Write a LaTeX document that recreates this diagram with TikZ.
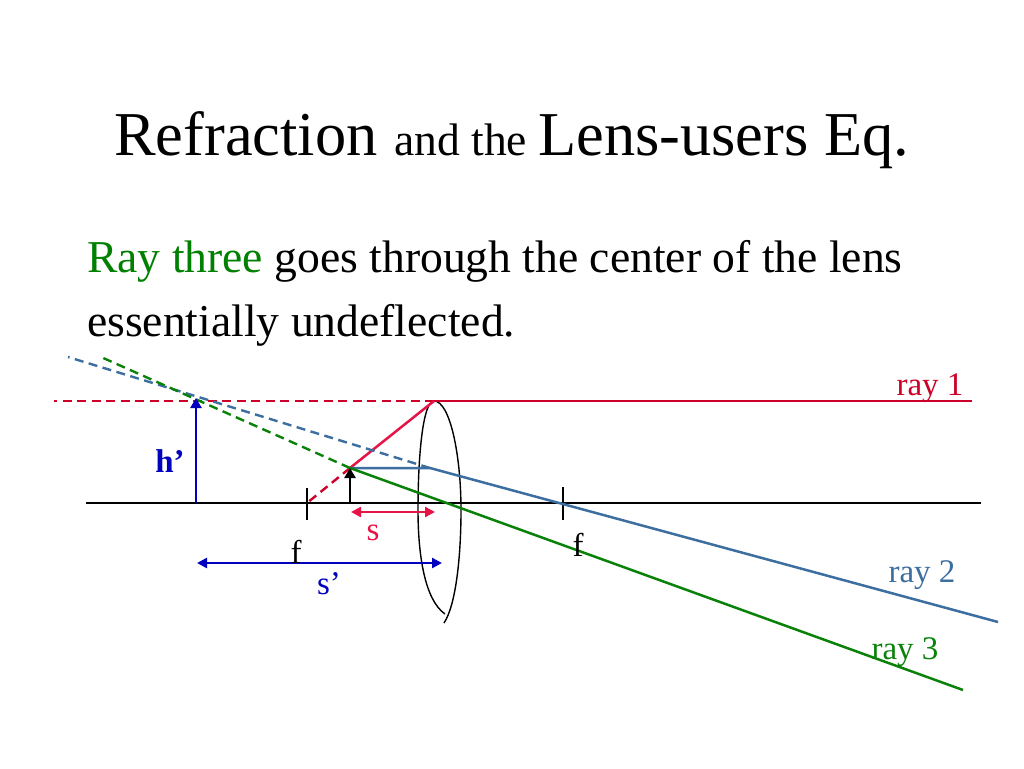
\documentclass[tikz,border=0pt]{standalone}
\usepackage{fontspec}
\setmainfont{Liberation Serif}
\usetikzlibrary{arrows.meta}
\definecolor{rayred}{RGB}{204,0,40}
\definecolor{raypink}{RGB}{230,20,70}
\definecolor{rayblue}{RGB}{60,110,160}
\definecolor{raygreen}{RGB}{10,130,10}
\definecolor{dimblue}{RGB}{0,0,190}
\definecolor{titlegreen}{RGB}{0,128,0}
\tikzset{
  txt/.style={inner sep=0pt,anchor=base west},
  solidray/.style={line width=2.5pt},
  dashray/.style={line width=2.4pt,dash pattern=on 9pt off 5.5pt},
  thinline/.style={line width=1.5pt,black},
  tickline/.style={line width=1.1pt,black},
  dimarrow/.style={line width=2.4pt,{Triangle[length=10pt,width=10pt]}-{Triangle[length=10pt,width=10pt]}},
  uparrow/.style={line width=2.8pt,-{Triangle[length=10pt,width=11pt]}},
  lbl/.style={inner sep=0pt,anchor=base,font=\fontsize{33}{33}\selectfont}
}
\begin{document}
\begin{tikzpicture}[x=1pt,y=-1pt]
\useasboundingbox[fill=white] (0,0) rectangle (1024,768);
% text
\node[txt] (title) at (114,155) {\fontsize{62.4}{64}\selectfont Refraction};
\node[txt] (title2) at (394,155) {\fontsize{45.6}{46}\selectfont and the};
\node[txt] (title3) at (538,155) {\fontsize{62.4}{64}\selectfont Lens-users Eq.};
\node[txt] (line1) at (87,272) {\fontsize{45.6}{46}\selectfont\textcolor{titlegreen}{Ray three} goes through the center of the lens};
\node[txt] (line2) at (87,336) {\fontsize{45.6}{46}\selectfont essentially undeflected.};
% points
\coordinate (axisL) at (86,503);
\coordinate (axisR) at (981,503);
\coordinate (f1t) at (307,488);
\coordinate (f1b) at (307,520);
\coordinate (f2t) at (563,487);
\coordinate (f2b) at (563,520);
\coordinate (tip) at (350,468);
\coordinate (base) at (350,503);
\coordinate (f1) at (307,503);
\coordinate (img) at (196,398);
\coordinate (imgb) at (196,503);
\coordinate (lensTop) at (434,401);
\coordinate (redL) at (54,401);
\coordinate (redR) at (972,401);
\coordinate (bluebend) at (430,468);
\coordinate (blueR) at (998,622);
\coordinate (blueL) at (68,357);
\coordinate (greenR) at (963,690);
\coordinate (greenL) at (101,357);
\coordinate (sL) at (351,512);
\coordinate (sR) at (435,512);
\coordinate (spL) at (197,563);
\coordinate (spR) at (442,563);
% axis
\draw[thinline] (axisL) -- (axisR);
\draw[tickline] (f1t) -- (f1b);
\draw[tickline] (f2t) -- (f2b);
% lens
\draw[line width=1.4pt] (445,614) .. controls (425,600) and (418,556) .. (418,510)
  .. controls (418,455) and (423,401) .. (434,401)
  .. controls (450,401) and (461,455) .. (461,510)
  .. controls (461,556) and (456,605) .. (444,623);
% rays
\draw[solidray,rayred] (lensTop) -- (redR);
\draw[dashray,rayred] (lensTop) -- (redL);
\draw[solidray,raypink] (tip) -- (lensTop);
\draw[dashray,rayred] (tip) -- (f1);
\draw[solidray,rayblue] (tip) -- (bluebend) -- (blueR);
\draw[dashray,rayblue] (bluebend) -- (blueL);
\draw[solidray,raygreen] (tip) -- (greenR);
\draw[dashray,raygreen] (tip) -- (greenL);
% arrows
\draw[uparrow,black] (base) -- (tip);
\draw[uparrow,dimblue] (imgb) -- (img);
\draw[dimarrow,raypink] (sL) -- (sR);
\draw[dimarrow,dimblue] (spL) -- (spR);
% labels
\node[lbl,text=dimblue,font=\fontsize{33}{33}\selectfont\bfseries] (hp) at (170,472) {h’};
\node[lbl,text=raypink] (s) at (373,540) {s};
\node[lbl] (f1lab) at (296,563) {f};
\node[lbl,text=dimblue] (splab) at (329,594) {s’};
\node[lbl] (f2lab) at (578,556) {f};
\node[lbl,text=rayred] (r1) at (930,395) {ray 1};
\node[lbl,text=rayblue] (r2) at (922,582) {ray 2};
\node[lbl,text=raygreen] (r3) at (905,659) {ray 3};
\end{tikzpicture}
\end{document}
